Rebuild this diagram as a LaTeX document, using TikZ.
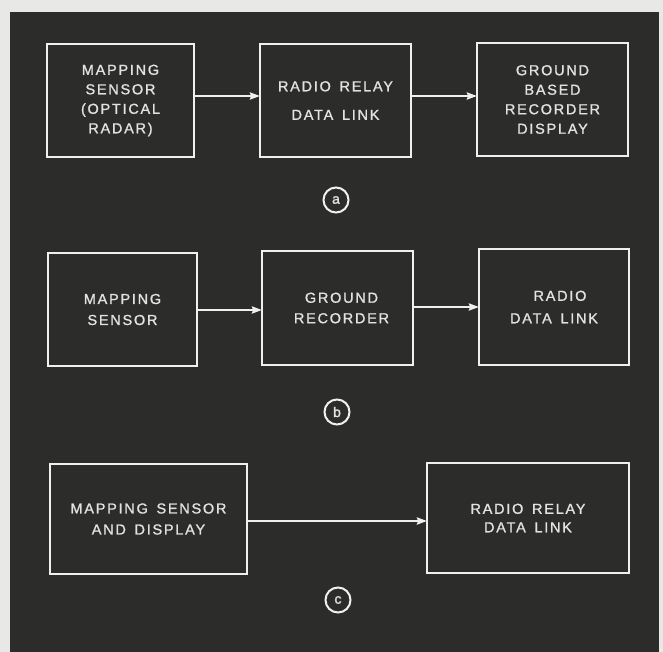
\documentclass[tikz,border=0pt]{standalone}
\usepackage{fontspec}
\usetikzlibrary{arrows.meta}
\newfontfamily\lblfont{Liberation Sans}[LetterSpace=12,WordSpace=1.5,FakeBold=1.2]
\newfontfamily\circfont{Liberation Sans}[FakeBold=1.5]
\definecolor{panel}{HTML}{2C2C2A}
\definecolor{paper}{HTML}{E8E8E6}
\definecolor{ink}{HTML}{F0F0EE}
\definecolor{txt}{HTML}{E2E2E0}
\begin{document}
\begin{tikzpicture}[x=1pt,y=-1pt,
  blk/.style={draw=ink,line width=2.8pt,inner sep=0pt,outer sep=0pt,
    text=txt,align=center,font=\lblfont\fontsize{14.5}{19.5}\selectfont},
  tag/.style={draw=ink,circle,line width=2pt,minimum size=25pt,inner sep=0pt,
    text=txt,font=\circfont\fontsize{14}{14}\selectfont},
  flow/.style={draw=ink,line width=2.6pt,-{Stealth[length=10pt,width=7pt,inset=1pt]}}]
\useasboundingbox (0,0) rectangle (663,652);
\fill[paper] (0,0) rectangle (663,652);
\fill[panel] (10,12) rectangle (659,652);
% row a
\node[blk,minimum width=147pt,minimum height=113pt] (a1) at (120.5,100.5)
  {MAPPING\\SENSOR\\(OPTICAL\\RADAR)};
\node[blk,minimum width=151pt,minimum height=113pt] (a2) at (335.5,100.5)
  {RADIO RELAY\\[9pt]DATA LINK};
\node[blk,minimum width=151pt,minimum height=113pt] (a3) at (552.5,99.5)
  {GROUND\\BASED\\RECORDER\\DISPLAY};
\draw[flow] ([yshift=4.5pt]a1.east) -- ([yshift=4.5pt]a2.west);
\draw[flow] ([yshift=4.5pt]a2.east) -- ([yshift=4.5pt]a2.east -| a3.west);
\node[tag] (la) at (336,200) {a};
% row b
\node[blk,minimum width=149pt,minimum height=113pt] (b1) at (122.5,309.5)
  {MAPPING\\[1.5pt]SENSOR};
\node[blk,minimum width=151pt,minimum height=114pt] (b2) at (337.5,308)
  {\hspace*{8pt}GROUND\\[1pt]\hspace*{8pt}RECORDER};
\node[blk,minimum width=150pt,minimum height=116pt] (b3) at (554,307)
  {\hspace*{12pt}RADIO\\[3pt]DATA LINK};
\draw[flow] ([yshift=-0.5pt]b1.east) -- ([yshift=-0.5pt]b1.east -| b2.west);
\draw[flow] ([yshift=1pt]b2.east) -- ([yshift=1pt]b2.east -| b3.west);
\node[tag] (lb) at (337,412) {b};
% row c
\node[blk,minimum width=197pt,minimum height=110pt] (c1) at (148.5,519)
  {MAPPING SENSOR\\[1.5pt]AND DISPLAY};
\node[blk,minimum width=202pt,minimum height=110pt] (c2) at (528,518)
  {RADIO RELAY\\[-1pt]DATA LINK};
\draw[flow] ([yshift=-2pt]c1.east) -- ([yshift=-2pt]c1.east -| c2.west);
\node[tag] (lc) at (338,600) {c};
\end{tikzpicture}
\end{document}
